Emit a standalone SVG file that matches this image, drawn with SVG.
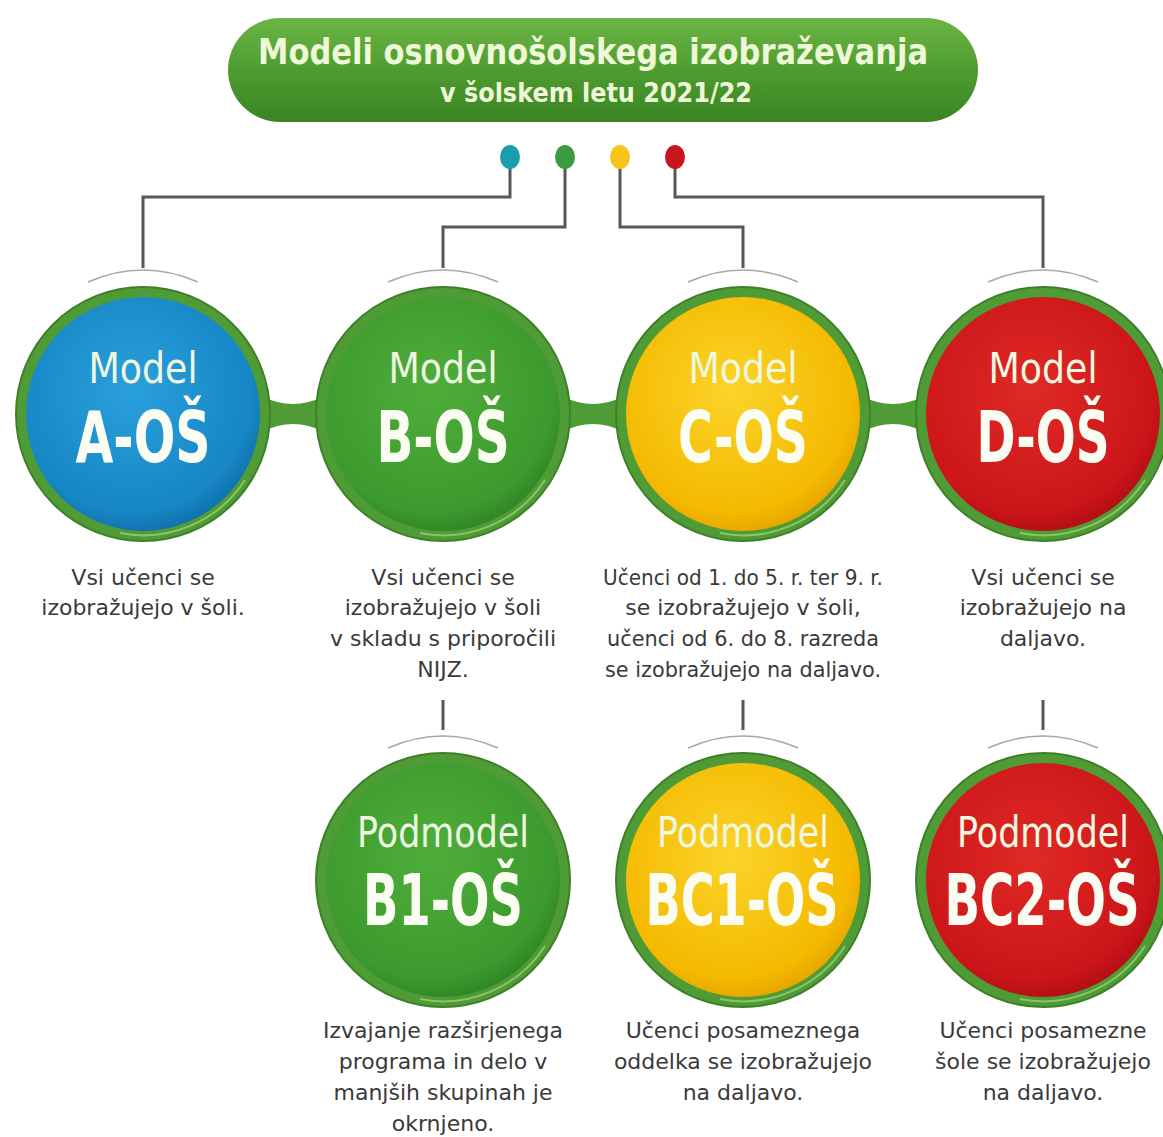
<svg xmlns="http://www.w3.org/2000/svg" width="1163" height="1137" viewBox="0 0 1163 1137">
<style>
.title{font-family:"DejaVu Sans","Liberation Sans",sans-serif;font-weight:bold;fill:#eef7d8;text-anchor:middle}
.lbl1{font-family:"DejaVu Sans","Liberation Sans",sans-serif;font-size:42px;fill:#eef7e0;text-anchor:middle}
.lbl2{font-family:"DejaVu Sans","Liberation Sans",sans-serif;font-weight:bold;font-size:72px;fill:#fbfdf2;text-anchor:middle}
.desc{font-family:"DejaVu Sans","Liberation Sans",sans-serif;font-size:22px;fill:#3a3a3a;text-anchor:middle}
.conn{fill:none;stroke:#575757;stroke-width:3}
.arc{fill:none;stroke:#a8a8a8;stroke-width:1.5}
.ring{fill:#4f9b35;stroke:#3d8028;stroke-width:2}
.ringhi{fill:none;stroke:#8cc46a;stroke-width:2}
</style>
<defs>
<linearGradient id="gTitle" x1="0" y1="0" x2="0" y2="1">
<stop offset="0" stop-color="#6cb544"/><stop offset="0.5" stop-color="#4e9c30"/><stop offset="1" stop-color="#3a8424"/>
</linearGradient>
<radialGradient id="gBlue" cx="0.45" cy="0.4" r="0.65">
<stop offset="0" stop-color="#2aa0dd"/><stop offset="0.8" stop-color="#1686c4"/><stop offset="1" stop-color="#0d6aa5"/>
</radialGradient>
<radialGradient id="gGreen" cx="0.45" cy="0.4" r="0.65">
<stop offset="0" stop-color="#4fae3a"/><stop offset="0.8" stop-color="#3c9a2e"/><stop offset="1" stop-color="#2c7f22"/>
</radialGradient>
<radialGradient id="gYellow" cx="0.45" cy="0.4" r="0.65">
<stop offset="0" stop-color="#fbd42a"/><stop offset="0.8" stop-color="#f4b900"/><stop offset="1" stop-color="#e29e00"/>
</radialGradient>
<radialGradient id="gRed" cx="0.45" cy="0.4" r="0.65">
<stop offset="0" stop-color="#e02a25"/><stop offset="0.8" stop-color="#cc1519"/><stop offset="1" stop-color="#a80c12"/>
</radialGradient>
</defs>
<rect width="1163" height="1137" fill="#ffffff"/>

<g id="title">
<rect x="228" y="18" width="750" height="104" rx="52" fill="url(#gTitle)"/>
<text class="title" x="593" y="64" font-size="36" textLength="670" lengthAdjust="spacingAndGlyphs">Modeli osnovnošolskega izobraževanja</text>
<text class="title" x="596" y="102" font-size="27" textLength="312" lengthAdjust="spacingAndGlyphs">v šolskem letu 2021/22</text>
</g>

<g id="connectors">
<path class="conn" d="M510,160 V197 H143 V268"/>
<path class="conn" d="M565,160 V227 H443 V268"/>
<path class="conn" d="M620,160 V227 H743 V268"/>
<path class="conn" d="M675,160 V197 H1043 V268"/>
<path class="conn" d="M443,700 V730"/>
<path class="conn" d="M743,700 V730"/>
<path class="conn" d="M1043,700 V730"/>
<path class="arc" d="M88,282 Q143,258 198,282"/>
<path class="arc" d="M388,282 Q443,258 498,282"/>
<path class="arc" d="M688,282 Q743,258 798,282"/>
<path class="arc" d="M988,282 Q1043,258 1098,282"/>
<path class="arc" d="M388,748 Q443,724 498,748"/>
<path class="arc" d="M688,748 Q743,724 798,748"/>
<path class="arc" d="M988,748 Q1043,724 1098,748"/>
<path d="M262,396 Q293,412 324,396 L324,432 Q293,416 262,432 Z" fill="#4f9b35"/>
<path d="M562,396 Q593,412 624,396 L624,432 Q593,416 562,432 Z" fill="#4f9b35"/>
<path d="M862,396 Q893,412 924,396 L924,432 Q893,416 862,432 Z" fill="#4f9b35"/>
</g>

<g id="dots">
<ellipse cx="510" cy="157" rx="10" ry="12" fill="#1b9db0"/>
<ellipse cx="565" cy="157" rx="10" ry="12" fill="#3d9a3f"/>
<ellipse cx="620" cy="157" rx="10" ry="12" fill="#f6c51a"/>
<ellipse cx="675" cy="157" rx="10" ry="12" fill="#c8151f"/>
</g>

<g id="modelA">
<circle class="ring" cx="143" cy="414" r="127"/>
<circle cx="143" cy="414" r="117" fill="url(#gBlue)"/>
<path class="ringhi" d="M245,480 A121,121 0 0 1 120,533"/>
<text class="lbl1" x="143" y="383" textLength="109" lengthAdjust="spacingAndGlyphs">Model</text>
<text class="lbl2" transform="translate(143,462) scale(0.65,1)" textLength="208" lengthAdjust="spacingAndGlyphs">A-OŠ</text>
</g>
<g id="modelB">
<circle class="ring" cx="443" cy="414" r="127"/>
<circle cx="443" cy="414" r="117" fill="url(#gGreen)"/>
<path class="ringhi" d="M545,480 A121,121 0 0 1 420,533"/>
<text class="lbl1" x="443" y="383" textLength="109" lengthAdjust="spacingAndGlyphs">Model</text>
<text class="lbl2" transform="translate(443,462) scale(0.65,1)" textLength="205" lengthAdjust="spacingAndGlyphs">B-OŠ</text>
</g>
<g id="modelC">
<circle class="ring" cx="743" cy="414" r="127"/>
<circle cx="743" cy="414" r="117" fill="url(#gYellow)"/>
<path class="ringhi" d="M845,480 A121,121 0 0 1 720,533"/>
<text class="lbl1" x="743" y="383" textLength="109" lengthAdjust="spacingAndGlyphs">Model</text>
<text class="lbl2" transform="translate(743,462) scale(0.65,1)" textLength="200" lengthAdjust="spacingAndGlyphs">C-OŠ</text>
</g>
<g id="modelD">
<circle class="ring" cx="1043" cy="414" r="127"/>
<circle cx="1043" cy="414" r="117" fill="url(#gRed)"/>
<path class="ringhi" d="M1145,480 A121,121 0 0 1 1020,533"/>
<text class="lbl1" x="1043" y="383" textLength="109" lengthAdjust="spacingAndGlyphs">Model</text>
<text class="lbl2" transform="translate(1043,462) scale(0.65,1)" textLength="205" lengthAdjust="spacingAndGlyphs">D-OŠ</text>
</g>

<g id="descA">
<text class="desc" x="143" y="585">Vsi učenci se</text>
<text class="desc" x="143" y="615">izobražujejo v šoli.</text>
</g>
<g id="descB">
<text class="desc" x="443" y="585">Vsi učenci se</text>
<text class="desc" x="443" y="615">izobražujejo v šoli</text>
<text class="desc" x="443" y="646">v skladu s priporočili</text>
<text class="desc" x="443" y="677">NIJZ.</text>
</g>
<g id="descC">
<text class="desc" x="743" y="585" textLength="280" lengthAdjust="spacingAndGlyphs">Učenci od 1. do 5. r. ter 9. r.</text>
<text class="desc" x="743" y="615">se izobražujejo v šoli,</text>
<text class="desc" x="743" y="646" textLength="272" lengthAdjust="spacingAndGlyphs">učenci od 6. do 8. razreda</text>
<text class="desc" x="743" y="677" textLength="276" lengthAdjust="spacingAndGlyphs">se izobražujejo na daljavo.</text>
</g>
<g id="descD">
<text class="desc" x="1043" y="585">Vsi učenci se</text>
<text class="desc" x="1043" y="615">izobražujejo na</text>
<text class="desc" x="1043" y="646">daljavo.</text>
</g>

<g id="podB1">
<circle class="ring" cx="443" cy="880" r="127"/>
<circle cx="443" cy="880" r="117" fill="url(#gGreen)"/>
<path class="ringhi" d="M545,946 A121,121 0 0 1 420,999"/>
<text class="lbl1" x="443" y="847" textLength="172" lengthAdjust="spacingAndGlyphs">Podmodel</text>
<text class="lbl2" transform="translate(443,925) scale(0.65,1)" textLength="246" lengthAdjust="spacingAndGlyphs">B1-OŠ</text>
</g>
<g id="podBC1">
<circle class="ring" cx="743" cy="880" r="127"/>
<circle cx="743" cy="880" r="117" fill="url(#gYellow)"/>
<path class="ringhi" d="M845,946 A121,121 0 0 1 720,999"/>
<text class="lbl1" x="743" y="847" textLength="172" lengthAdjust="spacingAndGlyphs">Podmodel</text>
<text class="lbl2" transform="translate(742,925) scale(0.65,1)" textLength="297" lengthAdjust="spacingAndGlyphs">BC1-OŠ</text>
</g>
<g id="podBC2">
<circle class="ring" cx="1043" cy="880" r="127"/>
<circle cx="1043" cy="880" r="117" fill="url(#gRed)"/>
<path class="ringhi" d="M1145,946 A121,121 0 0 1 1020,999"/>
<text class="lbl1" x="1043" y="847" textLength="172" lengthAdjust="spacingAndGlyphs">Podmodel</text>
<text class="lbl2" transform="translate(1042,925) scale(0.65,1)" textLength="300" lengthAdjust="spacingAndGlyphs">BC2-OŠ</text>
</g>

<g id="descB1">
<text class="desc" x="443" y="1038">Izvajanje razširjenega</text>
<text class="desc" x="443" y="1069">programa in delo v</text>
<text class="desc" x="443" y="1100">manjših skupinah je</text>
<text class="desc" x="443" y="1131">okrnjeno.</text>
</g>
<g id="descBC1">
<text class="desc" x="743" y="1038">Učenci posameznega</text>
<text class="desc" x="743" y="1069">oddelka se izobražujejo</text>
<text class="desc" x="743" y="1100">na daljavo.</text>
</g>
<g id="descBC2">
<text class="desc" x="1043" y="1038">Učenci posamezne</text>
<text class="desc" x="1043" y="1069">šole se izobražujejo</text>
<text class="desc" x="1043" y="1100">na daljavo.</text>
</g>
</svg>
